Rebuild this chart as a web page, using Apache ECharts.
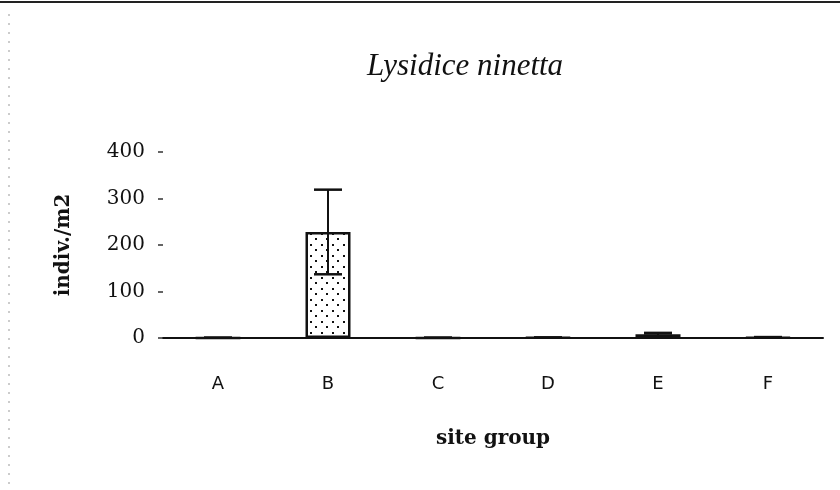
<!DOCTYPE html>
<html>
<head>
<meta charset="utf-8">
<script src="https://cdn.jsdelivr.net/npm/echarts@6/dist/echarts.min.js"></script>
<style>
  html, body { margin: 0; padding: 0; background: #fff; }
  #chart { width: 840px; height: 490px; }
</style>
</head>
<body>
<div id="chart"></div>
<script>
// data
const sites = ['A', 'B', 'C', 'D', 'E', 'F']
const meanDensity = [0.5, 228, 0.5, 1, 8, 1.5]
const errLow = [0.5, 137, 0.5, 1, 5, 1]
const errHigh = [0.5, 319, 0.5, 1, 11, 2]
const yTicks = [0, 100, 200, 300, 400]

// dotted fill like the original
function dotPattern() {
  const c = document.createElement('canvas')
  c.width = 11
  c.height = 11
  const ctx = c.getContext('2d')
  ctx.fillStyle = '#fff'
  ctx.fillRect(0, 0, 11, 11)
  ctx.fillStyle = '#111'
  ctx.fillRect(2, 2, 2, 2)
  ctx.fillRect(7, 7, 2, 2)
  return c
}

const errData = sites.map((s, i) => [i, errLow[i], errHigh[i]])

const chart = echarts.init(document.getElementById('chart'))

chart.setOption({
  backgroundColor: '#ffffff',
  animation: false,
  title: {
    text: 'Lysidice ninetta',
    left: 460,
    top: 46,
    textAlign: 'center',
    textStyle: {
      fontFamily: 'Liberation Serif',
      fontStyle: 'italic',
      fontWeight: 'normal',
      fontSize: 31,
      color: '#111',
    },
  },
  graphic: [
    {
      type: 'line',
      shape: { x1: 0, y1: 2, x2: 840, y2: 2 },
      style: { stroke: '#222', lineWidth: 2 },
    },
    {
      type: 'line',
      shape: { x1: 9, y1: 14, x2: 9, y2: 490 },
      style: { stroke: '#999', lineWidth: 1, lineDash: [2, 7] },
    },
  ],
  grid: {
    left: 163,
    right: 17,
    top: 152,
    height: 186,
  },
  xAxis: {
    type: 'category',
    data: sites,
    name: 'site group',
    nameLocation: 'middle',
    nameGap: 91,
    nameTextStyle: {
      fontFamily: 'DejaVu Serif',
      fontWeight: 'bold',
      fontSize: 20,
      color: '#111',
    },
    axisLine: { lineStyle: { color: '#111', width: 2 } },
    axisTick: { show: false },
    axisLabel: {
      margin: 37,
      fontFamily: 'DejaVu Sans',
      fontSize: 18,
      color: '#111',
    },
  },
  yAxis: {
    type: 'value',
    min: 0,
    max: 400,
    interval: 100,
    name: 'indiv./m2',
    nameLocation: 'middle',
    nameGap: 89,
    nameTextStyle: {
      fontFamily: 'DejaVu Serif',
      fontWeight: 'bold',
      fontSize: 20,
      color: '#111',
    },
    axisLine: { show: false },
    axisTick: { show: true, length: 5, lineStyle: { color: '#333', width: 1.5 } },
    splitLine: { show: false },
    axisLabel: {
      margin: 18,
      fontFamily: 'DejaVu Serif',
      fontSize: 20,
      color: '#111',
      formatter: function (v) {
        return yTicks.indexOf(v) >= 0 ? String(v) : ''
      },
    },
  },
  series: [
    {
      type: 'bar',
      data: meanDensity,
      barWidth: 45,
      itemStyle: {
        color: { image: dotPattern(), repeat: 'repeat' },
        borderColor: '#111',
        borderWidth: 2.5,
      },
      z: 2,
    },
    {
      type: 'custom',
      data: errData,
      z: 3,
      renderItem: function (params, api) {
        const x = api.value(0)
        const lo = api.coord([x, api.value(1)])
        const hi = api.coord([x, api.value(2)])
        const w = 14
        return {
          type: 'group',
          children: [
            { type: 'line', shape: { x1: hi[0], y1: hi[1], x2: lo[0], y2: lo[1] }, style: { stroke: '#111', lineWidth: 2 } },
            { type: 'line', shape: { x1: hi[0] - w, y1: hi[1], x2: hi[0] + w, y2: hi[1] }, style: { stroke: '#111', lineWidth: 2.5 } },
            { type: 'line', shape: { x1: lo[0] - w, y1: lo[1], x2: lo[0] + w, y2: lo[1] }, style: { stroke: '#111', lineWidth: 2.5 } },
          ],
        }
      },
    },
  ],
})
</script>
</body>
</html>
